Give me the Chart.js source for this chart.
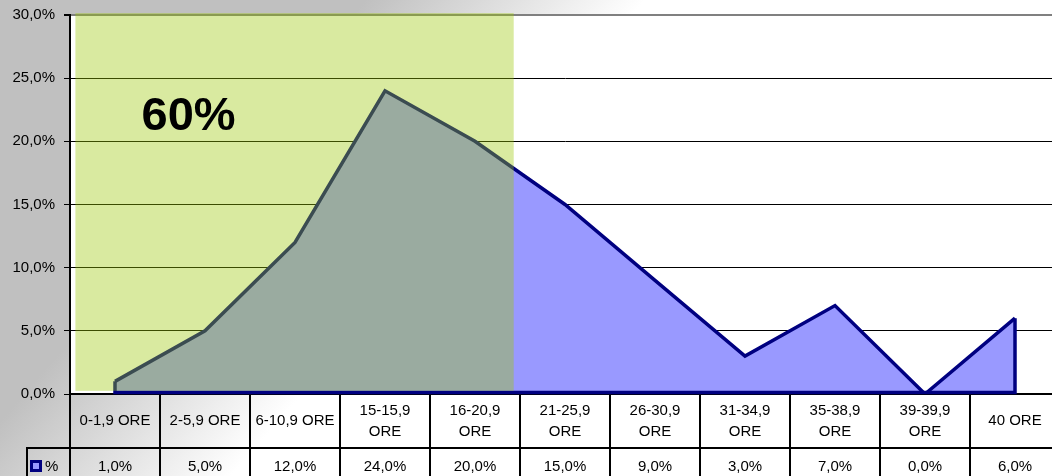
<!DOCTYPE html>
<html>
<head>
<meta charset="utf-8">
<script src="https://cdn.jsdelivr.net/npm/chart.js@4.4.1/dist/chart.umd.min.js"></script>
<style>
  html, body { margin: 0; padding: 0; width: 1052px; height: 476px; overflow: hidden; }
  body { background: linear-gradient(131deg, #c0c0c0 0%, #c0c0c0 25%, #ffffff 44%, #ffffff 100%); }
  #wrap { position: absolute; left: 0; top: 0; width: 1062px; height: 476px; }
</style>
</head>
<body>
<div id="wrap"><canvas id="c" width="1062" height="476"></canvas></div>
<script>
// ---- data ----
const categories = ['0-1,9 ORE', '2-5,9 ORE', '6-10,9 ORE', '15-15,9 ORE', '16-20,9 ORE',
                    '21-25,9 ORE', '26-30,9 ORE', '31-34,9 ORE', '35-38,9 ORE', '39-39,9 ORE', '40 ORE'];
const categoryLines = [['0-1,9 ORE'], ['2-5,9 ORE'], ['6-10,9 ORE'], ['15-15,9', 'ORE'], ['16-20,9', 'ORE'],
                       ['21-25,9', 'ORE'], ['26-30,9', 'ORE'], ['31-34,9', 'ORE'], ['35-38,9', 'ORE'], ['39-39,9', 'ORE'], ['40 ORE']];
const seriesName = '%';
const values = [1, 5, 12, 24, 20, 15, 9, 3, 7, 0, 6];
const yMin = 0, yMax = 30, yStep = 5;
const highlightLabel = '60%';

// ---- styling / annotation placement (in scale units) ----
const FONT = "'Liberation Sans', Arial, sans-serif";
const NAVY = '#000080';
const AREA = '#9999FF';
const SHADE = { from: -0.44, to: 4.43, low: 0.25, high: 30.15, color: 'rgba(155,200,6,0.38)' };
const SHADE_TEXT = { x: 0.817, y: 20.9 };

const fmt = v => v.toFixed(1).replace('.', ',') + '%';

const plotBg = {
  id: 'plotBg',
  beforeDraw(chart) {
    const { ctx, chartArea: a } = chart;
    ctx.save();
    ctx.fillStyle = '#ffffff';
    ctx.fillRect(a.left, a.top, a.right - a.left, a.bottom - a.top);
    ctx.restore();
  }
};

const areaEdges = {
  id: 'areaEdges',
  afterDatasetsDraw(chart) {
    const { ctx } = chart;
    const meta = chart.getDatasetMeta(0);
    const pts = meta.data;
    const y0 = chart.scales.y.getPixelForValue(0) - 1.5;
    const first = pts[0], last = pts[pts.length - 1];
    ctx.save();
    ctx.strokeStyle = NAVY;
    ctx.lineWidth = 3.5;
    ctx.lineJoin = 'miter';
    ctx.beginPath();
    ctx.moveTo(first.x, first.y);
    ctx.lineTo(first.x, y0);
    ctx.lineTo(last.x, y0);
    ctx.lineTo(last.x, last.y);
    ctx.stroke();

    // semi-transparent highlight box
    const xs = chart.scales.x, ys = chart.scales.y;
    const l = xs.getPixelForValue(SHADE.from), r = xs.getPixelForValue(SHADE.to);
    const t = ys.getPixelForValue(SHADE.high), b = ys.getPixelForValue(SHADE.low);
    ctx.fillStyle = SHADE.color;
    ctx.fillRect(l, t, r - l, b - t);

    ctx.fillStyle = '#000';
    ctx.font = 'bold 47px ' + FONT;
    ctx.textAlign = 'center';
    ctx.textBaseline = 'alphabetic';
    ctx.fillText(highlightLabel, xs.getPixelForValue(SHADE_TEXT.x), ys.getPixelForValue(SHADE_TEXT.y));
    ctx.restore();
  }
};

const dataTable = {
  id: 'dataTable',
  afterDraw(chart) {
    const { ctx } = chart;
    const xs = chart.scales.x;
    const top = xs.top;
    const rowDiv = top + 54;
    const W = chart.width;
    ctx.save();
    ctx.strokeStyle = '#000';
    ctx.lineWidth = 2;
    ctx.beginPath();
    ctx.moveTo(26, rowDiv);
    ctx.lineTo(W, rowDiv);
    ctx.moveTo(27, rowDiv);
    ctx.lineTo(27, chart.height);
    ctx.stroke();

    ctx.fillStyle = '#000';
    ctx.font = '15px ' + FONT;
    ctx.textAlign = 'center';
    ctx.textBaseline = 'middle';
    const headMid = (top + rowDiv) / 2;
    categoryLines.forEach((lines, i) => {
      const x = xs.getPixelForValue(i);
      if (lines.length === 1) {
        ctx.fillText(lines[0], x, headMid);
      } else {
        ctx.fillText(lines[0], x, headMid - 10.5);
        ctx.fillText(lines[1], x, headMid + 11);
      }
      ctx.fillText(fmt(values[i]), x, rowDiv + 19);
    });

    // legend key
    const ky = rowDiv + 18;
    ctx.fillStyle = NAVY;
    ctx.fillRect(30, ky - 6, 12, 12);
    ctx.fillStyle = AREA;
    ctx.fillRect(33, ky - 3, 6, 6);
    ctx.fillStyle = '#000';
    ctx.textAlign = 'left';
    ctx.fillText(seriesName, 45, ky + 1);
    ctx.restore();
  }
};

new Chart(document.getElementById('c'), {
  type: 'line',
  data: {
    labels: categories,
    datasets: [{
      label: seriesName,
      data: values,
      borderColor: NAVY,
      borderWidth: 3.5,
      borderJoinStyle: 'miter',
      backgroundColor: AREA,
      fill: 'origin',
      tension: 0,
      pointRadius: 0,
      pointHoverRadius: 0
    }]
  },
  options: {
    responsive: false,
    devicePixelRatio: 1,
    animation: false,
    layout: { padding: { top: 15, right: 2, bottom: 0, left: 0 } },
    plugins: { legend: { display: false }, tooltip: { enabled: false }, title: { display: false } },
    scales: {
      x: {
        type: 'category',
        offset: true,
        ticks: { display: false },
        grid: { offset: true, drawOnChartArea: false, drawTicks: true, tickLength: 82, color: '#000', lineWidth: 2 },
        border: { display: true, color: '#000', width: 2 },
        afterFit(s) { s.height = 82; }
      },
      y: {
        min: yMin,
        max: yMax,
        ticks: {
          stepSize: yStep,
          color: '#000',
          padding: 9,
          font: { family: FONT, size: 15, lineHeight: 0.5 },
          callback: v => fmt(v)
        },
        grid: {
          color: c => (c.tick && c.tick.value === yMax) ? '#808080' : '#000',
          lineWidth: c => (c.tick && c.tick.value === yMax) ? 2 : 1,
          tickColor: '#000',
          tickLength: 6,
          drawTicks: true
        },
        border: { display: true, color: '#000', width: 2 },
        afterFit(s) { s.width = 70; }
      }
    }
  },
  plugins: [plotBg, areaEdges, dataTable]
});
</script>
</body>
</html>
